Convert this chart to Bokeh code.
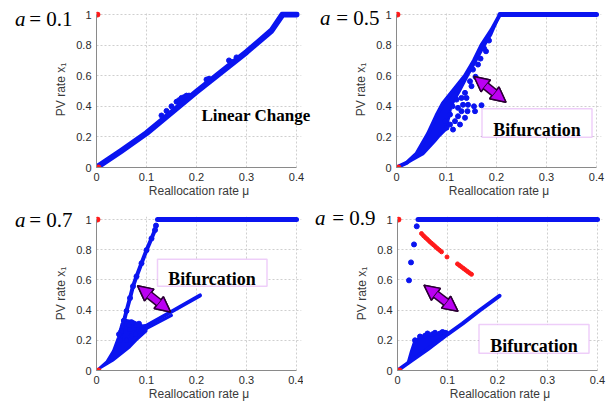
from bokeh.plotting import figure
from bokeh.layouts import column, row
from bokeh.models import (Range1d, FixedTicker, Label, BoxAnnotation, Arrow, NormalHead,
                          LinearAxis)
from bokeh.embed import file_html
from bokeh.resources import INLINE

# ---------------- data ----------------
x_ticks = [0, 0.1, 0.2, 0.3, 0.4]
x_tick_labels = ["0", "0.1", "0.2", "0.3", "0.4"]
y_ticks = [0, 0.2, 0.4, 0.6, 0.8, 1.0]
y_tick_labels = ["0", "0.2", "0.4", "0.6", "0.8", "1"]

a_values = ["0.1", "0.5", "0.7", "0.9"]

# unstable (red) end points shared by all panels
red_mu = [0.002, 0.004]
red_x = [1.0, 0.0]

# panel a = 0.1
p1_mu = [0, 0.05, 0.1, 0.15, 0.2, 0.25, 0.3, 0.35, 0.372, 0.4]
p1_x = [0, 0.11, 0.225, 0.36, 0.495, 0.625, 0.755, 0.895, 1.0, 1.0]
p1_dot_mu = [0.13, 0.14, 0.15, 0.16, 0.165, 0.17, 0.175, 0.18, 0.185, 0.22, 0.225, 0.265, 0.27, 0.28]
p1_dot_x = [0.34, 0.37, 0.4, 0.43, 0.44, 0.455, 0.46, 0.47, 0.47, 0.575, 0.58, 0.7, 0.69, 0.72]

# panel a = 0.5
p2_top_mu = [0.207, 0.4]
p2_top_x = [1.0, 1.0]
p2_upper_mu = [0, 0.02, 0.04, 0.063, 0.08, 0.093, 0.115, 0.137, 0.155, 0.17, 0.19, 0.207]
p2_upper_x = [0, 0.03, 0.09, 0.22, 0.34, 0.42, 0.51, 0.6, 0.7, 0.8, 0.9, 1.0]
p2_lower_mu = [0.207, 0.19, 0.177, 0.16, 0.143, 0.127, 0.11, 0.105, 0.1, 0.085, 0.077, 0.053, 0.02, 0]
p2_lower_x = [1.0, 0.87, 0.8, 0.7, 0.6, 0.5, 0.4, 0.32, 0.25, 0.2, 0.17, 0.085, 0.025, 0]
p2_dot_mu = [0.158, 0.153, 0.163, 0.168, 0.179, 0.137, 0.14, 0.133, 0.143, 0.155, 0.17, 0.157,
             0.142, 0.13, 0.123, 0.137, 0.117, 0.107, 0.127, 0.113, 0.1, 0.12, 0.112, 0.123,
             0.13, 0.107, 0.097, 0.147, 0.15, 0.185, 0.175]
p2_dot_x = [0.593, 0.64, 0.673, 0.712, 0.76, 0.488, 0.455, 0.41, 0.41, 0.40, 0.407, 0.368,
            0.368, 0.368, 0.335, 0.325, 0.303, 0.281, 0.281, 0.248, 0.26, 0.444, 0.40, 0.39,
            0.455, 0.346, 0.303, 0.564, 0.532, 0.83, 0.78]

# panel a = 0.7
p3_top_mu = [0.122, 0.4]
p3_top_x = [1.0, 1.0]
p3_up_mu = [0.047, 0.05, 0.055, 0.06, 0.067, 0.073, 0.08, 0.09, 0.1, 0.11, 0.117, 0.119]
p3_up_x = [0.2, 0.264, 0.33, 0.394, 0.48, 0.558, 0.623, 0.71, 0.797, 0.874, 0.93, 0.96]
p3_low_mu = [0.065, 0.1, 0.15, 0.207]
p3_low_x = [0.27, 0.296, 0.39, 0.497]
p3_low2_mu = [0.09, 0.15]
p3_low2_x = [0.26, 0.365]
p3_mess_mu = [0, 0.02, 0.033, 0.043, 0.05, 0.06, 0.075, 0.09, 0.1, 0.1, 0.08, 0.067, 0.033, 0]
p3_mess_x = [0, 0.06, 0.13, 0.22, 0.31, 0.335, 0.325, 0.3, 0.29, 0.26, 0.2, 0.155, 0.065, 0]
p3_dot_mu = [0.055, 0.06, 0.065, 0.07, 0.075, 0.08, 0.085, 0.09, 0.07, 0.06, 0.05, 0.045, 0.078, 0.088]
p3_dot_x = [0.33, 0.31, 0.3, 0.32, 0.28, 0.3, 0.31, 0.27, 0.23, 0.2, 0.26, 0.24, 0.24, 0.26]

# panel a = 0.9
p4_top_mu = [0.041, 0.4]
p4_top_x = [1.0, 1.0]
p4_jump_mu = [0.0385, 0.033, 0.027, 0.023]
p4_jump_x = [0.955, 0.835, 0.716, 0.597]
p4_red_mu = [0.048, 0.052, 0.056, 0.06, 0.064, 0.068, 0.072, 0.076, 0.08, 0.084, 0.088, 0.099,
             0.12, 0.124, 0.128, 0.132, 0.136, 0.14, 0.144, 0.148]
p4_red_x = [0.907, 0.893, 0.88, 0.868, 0.855, 0.843, 0.832, 0.82, 0.808, 0.797, 0.786, 0.752,
            0.706, 0.696, 0.686, 0.676, 0.666, 0.656, 0.646, 0.637]
p4_low_mu = [0, 0.03, 0.06, 0.1, 0.13, 0.165, 0.204]
p4_low_x = [0, 0.07, 0.14, 0.24, 0.31, 0.4, 0.495]
p4_clu_mu = [0.02, 0.027, 0.033, 0.04, 0.05, 0.065, 0.08, 0.1, 0.1, 0.085, 0.065, 0.045, 0.03, 0.02]
p4_clu_x = [0.05, 0.13, 0.19, 0.21, 0.225, 0.235, 0.245, 0.26, 0.235, 0.2, 0.15, 0.11, 0.07, 0.05]
p4_dot_mu = [0.035, 0.045, 0.055, 0.06, 0.07, 0.075, 0.085, 0.09, 0.095]
p4_dot_x = [0.2, 0.225, 0.23, 0.245, 0.24, 0.25, 0.245, 0.255, 0.25]

# ---------------- style ----------------
BLUE = "#0a14f0"
RED = "#ff1a1a"
BOX = "#c85cec"
ARROW_FILL = "#bb00f2"
ARROW_EDGE = "#2a0033"
SANS = "Liberation Sans"
SERIF = "Liberation Serif"


def make_panel(width, height, left, right, top, bottom):
    p = figure(width=width, height=height,
               x_range=Range1d(0, 0.41), y_range=Range1d(0, 1.02),
               output_backend="svg", toolbar_location=None,
               min_border_left=left, min_border_right=right,
               min_border_top=top, min_border_bottom=bottom)
    p.outline_line_color = None
    p.background_fill_color = "white"
    p.border_fill_color = "white"
    p.xaxis.ticker = FixedTicker(ticks=x_ticks)
    p.yaxis.ticker = FixedTicker(ticks=y_ticks)
    p.xgrid.ticker = FixedTicker(ticks=x_ticks)
    p.ygrid.ticker = FixedTicker(ticks=y_ticks)
    p.xgrid.bounds = (-1, 2)
    p.ygrid.bounds = (-1, 2)
    p.xaxis.major_label_overrides = dict(zip(x_ticks, x_tick_labels))
    p.yaxis.major_label_overrides = dict(zip(y_ticks, y_tick_labels))
    p.xaxis.bounds = (0, 0.4)
    p.yaxis.bounds = (0, 1)
    for ax in (p.xaxis, p.yaxis):
        ax.axis_line_color = "#8a8a8a"
        ax.axis_line_width = 1
        ax.major_tick_line_color = None
        ax.minor_tick_line_color = None
        ax.major_tick_out = 0
        ax.major_tick_in = 0
        ax.minor_tick_out = 0
        ax.major_label_text_font = SANS
        ax.major_label_text_font_size = "11px"
        ax.major_label_text_color = "#2b2b2b"
        ax.axis_label_text_font = SANS
        ax.axis_label_text_font_size = "12px"
        ax.axis_label_text_font_style = "normal"
        ax.axis_label_text_color = "#3a3a3a"
    p.xaxis.major_label_standoff = 5
    p.yaxis.major_label_standoff = 5
    p.xaxis.axis_label_standoff = 0
    p.yaxis.axis_label_standoff = 5
    p.xaxis.axis_label = "Reallocation rate \u03bc"
    p.yaxis.axis_label = "PV rate x\u2081"
    for g in (p.xgrid, p.ygrid):
        g.grid_line_color = "#cfcfcf"
        g.grid_line_dash = "2 2"
        g.grid_line_width = 1
    return p


def text_axis(p, side, y, text, standoff, style="normal", size="21px"):
    # a tick-free axis whose single label carries a caption outside the frame
    ax = LinearAxis(ticker=FixedTicker(ticks=[y]), major_label_overrides={y: text})
    ax.axis_line_color = None
    ax.major_tick_line_color = None
    ax.minor_tick_line_color = None
    ax.major_tick_out = 0
    ax.major_tick_in = 0
    ax.minor_tick_out = 0
    ax.major_label_standoff = standoff
    ax.major_label_text_font = SERIF
    ax.major_label_text_font_style = style
    ax.major_label_text_font_size = size
    ax.major_label_text_color = "black"
    p.add_layout(ax, side)


def add_a_label(p, y, value_text, eq_standoff, a_standoff, a_inner=False):
    if a_inner:
        text_axis(p, "left", y, "a", a_standoff, style="italic")
        text_axis(p, "left", y, "= " + value_text, eq_standoff)
    else:
        text_axis(p, "left", y, "= " + value_text, eq_standoff)
        text_axis(p, "left", y, "a", a_standoff, style="italic")


def add_box(p, left, right, bottom, top, tx, ty):
    p.add_layout(BoxAnnotation(left=left, right=right, bottom=bottom, top=top,
                               fill_color="white", fill_alpha=1.0,
                               line_color=BOX, line_width=1.5))
    p.add_layout(Label(x=tx, y=ty, text="Bifurcation", text_font=SERIF,
                       text_font_style="bold", text_font_size="18px", text_color="black",
                       text_align="center", text_baseline="alphabetic"))


def add_arrow(p, x0, y0, x1, y1):
    for lw, col in ((9, ARROW_EDGE), (6, ARROW_FILL)):
        p.add_layout(Arrow(x_start=x0, y_start=y0, x_end=x1, y_end=y1,
                           line_width=lw, line_color=col,
                           start=NormalHead(size=15, fill_color=ARROW_FILL,
                                            line_color=ARROW_EDGE, line_width=1.5),
                           end=NormalHead(size=15, fill_color=ARROW_FILL,
                                          line_color=ARROW_EDGE, line_width=1.5)))


def red_ends(p):
    p.scatter(red_mu, red_x, size=5, color=RED)


# ---------------- panel 1 ----------------
p1 = make_panel(314, 200, 96, 13, 11, 33)
p1.line(p1_mu, p1_x, line_width=6, color=BLUE, line_cap="round", line_join="round")
p1.scatter(p1_dot_mu, p1_dot_x, size=5, color=BLUE)
red_ends(p1)
add_a_label(p1, 0.971, a_values[0], -21, 1)
text_axis(p1, "right", 0.342, "Linear Change", -100, style="bold", size="17px")

# ---------------- panel 2 ----------------
p2 = make_panel(292, 200, 82, 5, 11, 33)
p2.patch(p2_upper_mu + p2_lower_mu, p2_upper_x + p2_lower_x, color=BLUE, line_width=2)
p2.line(p2_upper_mu, p2_upper_x, line_width=4, color=BLUE, line_cap="round")
p2.line(p2_top_mu, p2_top_x, line_width=5, color=BLUE, line_cap="round")
p2.scatter(p2_dot_mu, p2_dot_x, size=5, color=BLUE)
red_ends(p2)
add_a_label(p2, 0.977, a_values[1], -63, 21, a_inner=True)
add_box(p2, 0.171, 0.391, 0.198, 0.384, 0.281, 0.242)
add_arrow(p2, 0.155, 0.595, 0.219, 0.427)

# ---------------- panel 3 ----------------
p3 = make_panel(303, 203, 96, 2, 15, 32)
p3.patch(p3_mess_mu, p3_mess_x, color=BLUE, line_width=2)
p3.line(p3_low_mu, p3_low_x, line_width=4, color=BLUE, line_cap="round")
p3.line(p3_low2_mu, p3_low2_x, line_width=3, color=BLUE, line_cap="round")
p3.line(p3_up_mu, p3_up_x, line_width=4, color=BLUE, line_cap="round")
p3.scatter(p3_up_mu, p3_up_x, size=5, color=BLUE)
p3.line(p3_top_mu, p3_top_x, line_width=5, color=BLUE, line_cap="round")
p3.scatter(p3_dot_mu, p3_dot_x, size=5, color=BLUE)
red_ends(p3)
add_a_label(p3, 0.997, a_values[2], -21, 1)
add_box(p3, 0.122, 0.341, 0.558, 0.737, 0.231, 0.606)
add_arrow(p3, 0.082, 0.562, 0.148, 0.388)

# ---------------- panel 4 ----------------
p4 = make_panel(303, 203, 94, 4, 16, 31)
p4.patch(p4_clu_mu, p4_clu_x, color=BLUE, line_width=2)
p4.line(p4_low_mu, p4_low_x, line_width=4, color=BLUE, line_cap="round")
p4.scatter(p4_dot_mu, p4_dot_x, size=5, color=BLUE)
p4.line(p4_top_mu, p4_top_x, line_width=5, color=BLUE, line_cap="round")
p4.scatter(p4_jump_mu, p4_jump_x, size=5, color=BLUE)
p4.scatter(p4_red_mu, p4_red_x, size=4, color=RED)
red_ends(p4)
add_a_label(p4, 1.008, a_values[3], -23, 4)
add_box(p4, 0.163, 0.383, 0.115, 0.305, 0.273, 0.164)
add_arrow(p4, 0.053, 0.565, 0.121, 0.392)

layout = column(row(p1, p2), row(p3, p4))
open("out.html", "w").write(file_html(layout, INLINE))
